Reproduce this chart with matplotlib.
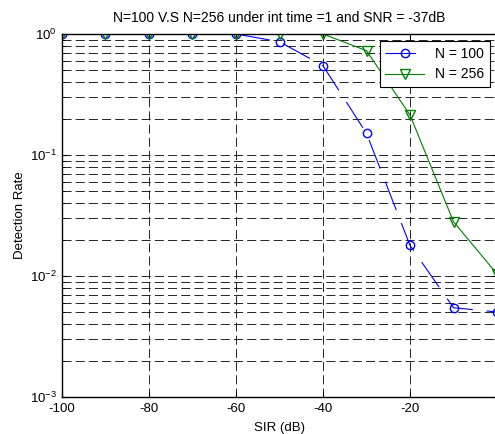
import numpy as np
import matplotlib
matplotlib.use('Agg')
import matplotlib.pyplot as plt

# Datos
sir_db = [-100, -90, -80, -70, -60, -50, -40, -30, -20, -10, 0]
det_n100 = [1.0, 1.0, 1.0, 1.0, 1.0, 0.863, 0.547, 0.151, 0.0179, 0.00547, 0.00504]
det_n256 = [1.0, 1.0, 1.0, 1.0, 1.0, 1.0, 1.0, 0.728, 0.214, 0.0281, 0.0104]
xticks = [-100, -80, -60, -40, -20]

plt.rcParams['font.family'] = ['Liberation Sans', 'DejaVu Sans']
plt.rcParams['mathtext.fontset'] = 'custom'
plt.rcParams['mathtext.rm'] = 'Liberation Sans'
plt.rcParams['axes.unicode_minus'] = False
plt.rcParams['lines.scale_dashes'] = False

fig = plt.figure(figsize=(4.95, 4.34), dpi=100)
# el eje se sale un poco por la derecha, como en la imagen original
ax = fig.add_axes([62 / 495, 1 - 397 / 434, 435 / 495, 363 / 434])

ax.semilogy(sir_db, det_n100, color='#0000ff', marker='o', markersize=6,
            markerfacecolor='none', linewidth=0.8, linestyle=(0, (22, 10)),
            label='N = 100')
ax.semilogy(sir_db, det_n256, color='#008000', marker='v', markersize=7,
            markerfacecolor='none', linewidth=0.8, label='N = 256')

ax.set_xlim(-100, 0)
ax.set_ylim(1e-3, 1)
ax.set_xticks(xticks)

ax.grid(True, which='major', color='black', linestyle=(0, (6.5, 3)), linewidth=0.6)
ax.grid(True, which='minor', axis='y', color='black', linestyle=(0, (6.5, 3)), linewidth=0.6)
ax.tick_params(which='both', direction='in', labelsize=9.5, top=True, right=True)
ax.tick_params(axis='x', pad=4)
for s in ax.spines.values():
    s.set_linewidth(1.0)

ax.set_xlabel('SIR (dB)', fontsize=9.5, labelpad=5)
ax.set_ylabel('Detection Rate', fontsize=9.5, labelpad=3)
ax.set_title('N=100 V.S N=256 under int time =1 and SNR = -37dB', fontsize=10, pad=8.5)

leg = ax.legend(loc='upper right', fontsize=10, fancybox=False, framealpha=1,
                edgecolor='black', borderaxespad=0.5, handlelength=2.8)
leg.get_frame().set_linewidth(0.8)

fig.savefig('out.png', dpi=100)
